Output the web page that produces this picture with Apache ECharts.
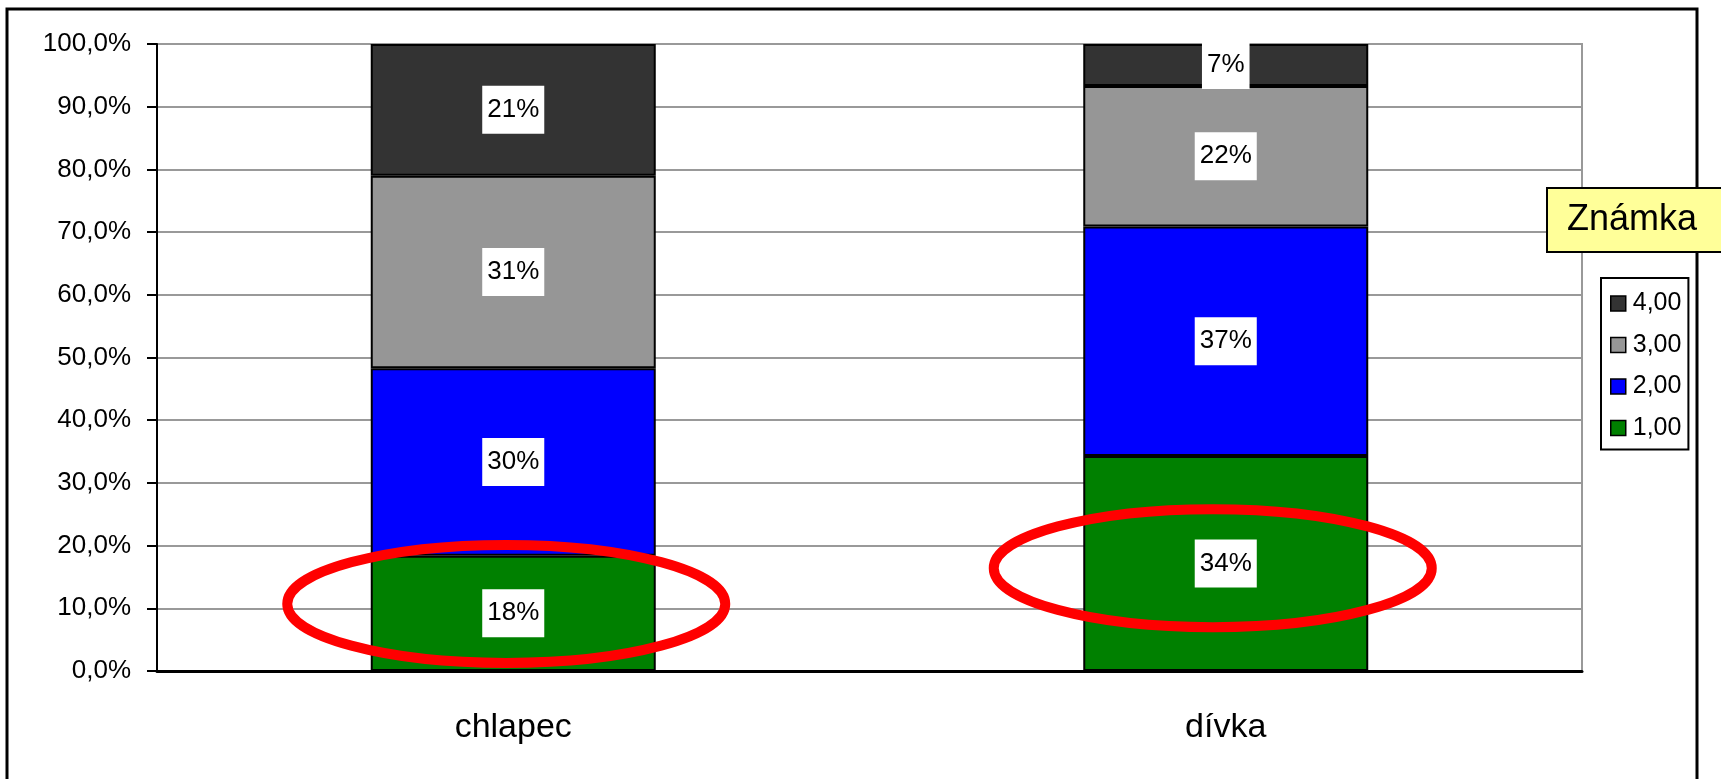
<!DOCTYPE html>
<html>
<head>
<meta charset="utf-8">
<script src="https://cdn.jsdelivr.net/npm/echarts@6/dist/echarts.min.js"></script>
<style>
  html, body { margin: 0; padding: 0; background: #fff; }
  #chart { width: 1721px; height: 779px; }
</style>
</head>
<body>
<div id="chart"></div>
<script>
// kategorie a podíly (%) podle známky
const categories = ['chlapec', 'dívka'];
const grades = ['1,00', '2,00', '3,00', '4,00'];
const grade1 = [18.4, 34.3];
const grade2 = [29.9, 36.6];
const grade3 = [30.7, 22.4];
const grade4 = [21.0, 6.7];
const yTicks = [0, 10, 20, 30, 40, 50, 60, 70, 80, 90, 100];
// červené ovály (anotace): střed v datových souřadnicích
const ovalCats = ['chlapec', 'dívka'];
const ovalValues = [10.7, 16.4];

const colors = ['#008000', '#0000FF', '#969696', '#333333'];
const FONT = 'Liberation Sans, Arial, sans-serif';

const chart = echarts.init(document.getElementById('chart'));

const seriesData = [grade1, grade2, grade3, grade4];
const series = grades.map((g, i) => ({
  name: g,
  type: 'bar',
  stack: 'total',
  barCategoryGap: '60%',
  data: seriesData[i],
  itemStyle: { color: colors[i], borderColor: '#000', borderWidth: 2 },
  label: {
    show: true,
    position: 'inside',
    formatter: p => Math.round(p.value) + '%',
    color: '#000',
    fontFamily: FONT,
    fontSize: 26,
    backgroundColor: '#fff',
    padding: [11, 5, 11, 5]
  },
  emphasis: { disabled: true }
}));

const option = {
  animation: false,
  grid: {
    left: 157, right: 139, top: 44, bottom: 108,
    show: true, borderColor: '#999', borderWidth: 2, backgroundColor: 'transparent'
  },
  title: {
    text: 'Známka',
    left: 1547,
    top: 188,
    backgroundColor: '#FFFF99',
    borderColor: '#000',
    borderWidth: 2,
    padding: [14, 40, 14, 20],
    textStyle: { fontFamily: FONT, fontSize: 36, fontWeight: 'normal', color: '#000' }
  },
  legend: {
    data: ['4,00', '3,00', '2,00', '1,00'],
    orient: 'vertical',
    left: 1601,
    top: 278,
    icon: 'rect',
    itemWidth: 15,
    itemHeight: 15,
    itemGap: 16.5,
    padding: [13, 7, 9, 9],
    borderColor: '#000',
    borderWidth: 2,
    selectedMode: false,
    itemStyle: { borderColor: '#000', borderWidth: 1.5 },
    textStyle: { fontFamily: FONT, fontSize: 25, color: '#000', lineHeight: 25, padding: [0, 0, 0, 2] }
  },
  xAxis: {
    type: 'category',
    data: categories,
    axisLine: { lineStyle: { color: '#000', width: 3 } },
    axisTick: { length: 12, lineStyle: { color: '#000', width: 2 } },
    axisLabel: { margin: 40, fontFamily: FONT, fontSize: 34, color: '#000' }
  },
  yAxis: {
    type: 'value',
    min: yTicks[0],
    max: yTicks[yTicks.length - 1],
    interval: 10,
    axisLine: { show: true, lineStyle: { color: '#000', width: 2 } },
    axisTick: { show: true, length: 10, lineStyle: { color: '#000', width: 2 } },
    splitLine: { lineStyle: { color: '#999', width: 2 } },
    axisLabel: {
      margin: 26,
      fontFamily: FONT,
      fontSize: 26,
      color: '#000',
      formatter: v => v.toFixed(1).replace('.', ',') + '%'
    }
  },
  series: series
};

chart.setOption(option);

// ovály a rámeček grafu
const ovalDx = [-7, -13];
const ovals = ovalCats.map((c, i) => {
  const p = chart.convertToPixel({ gridIndex: 0 }, [c, ovalValues[i]]);
  return {
    type: 'ellipse',
    z: 100,
    silent: true,
    shape: { cx: p[0] + ovalDx[i], cy: p[1], rx: 219, ry: 59 },
    style: { fill: 'none', stroke: '#FF0000', lineWidth: 10 }
  };
});

chart.setOption({
  graphic: [
    {
      type: 'rect',
      silent: true,
      z: -1,
      shape: { x: 7, y: 9, width: 1690, height: 820 },
      style: { fill: 'none', stroke: '#000', lineWidth: 3 }
    }
  ].concat(ovals)
});
</script>
</body>
</html>
